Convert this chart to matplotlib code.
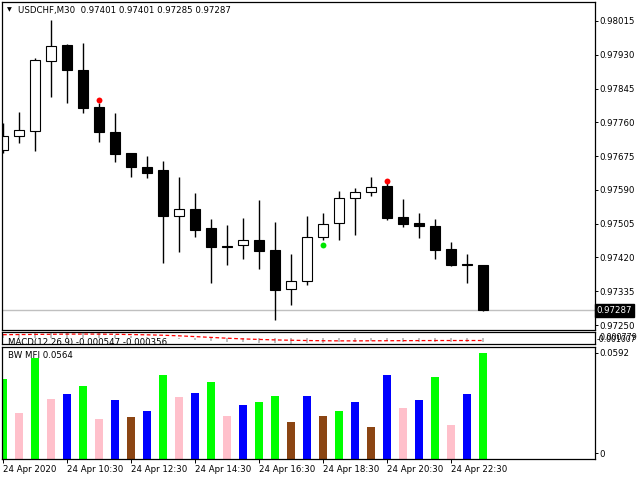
import matplotlib
matplotlib.use("Agg")
import matplotlib.pyplot as plt
import matplotlib.transforms as mtransforms

plt.rcParams['font.family'] = ['DejaVu Sans']
FS = 6.2

# ---------------- data ----------------
opens = [0.97690, 0.97726, 0.97739, 0.97915, 0.97955, 0.97892, 0.97799, 0.97736,
         0.97683, 0.97647, 0.97640, 0.97525, 0.97542, 0.97493, 0.97450, 0.97451,
         0.97464, 0.97439, 0.97340, 0.97360, 0.97471, 0.97506, 0.97569, 0.97584,
         0.97600, 0.97521, 0.97506, 0.97499, 0.97441, 0.97403, 0.97401]
highs = [0.97758, 0.97786, 0.97922, 0.98018, 0.97957, 0.97959, 0.97809, 0.97784,
         0.97684, 0.97675, 0.97663, 0.97622, 0.97582, 0.97517, 0.97502, 0.97519,
         0.97565, 0.97508, 0.97429, 0.97524, 0.97532, 0.97587, 0.97594, 0.97623,
         0.97607, 0.97567, 0.97532, 0.97517, 0.97459, 0.97429, 0.97401]
lows = [0.97683, 0.97708, 0.97689, 0.97825, 0.97809, 0.97784, 0.97711, 0.97660,
        0.97623, 0.97620, 0.97407, 0.97435, 0.97472, 0.97357, 0.97402, 0.97417,
        0.97392, 0.97263, 0.97301, 0.97350, 0.97464, 0.97464, 0.97477, 0.97575,
        0.97514, 0.97497, 0.97469, 0.97417, 0.97399, 0.97357, 0.97285]
closes = [0.97726, 0.97741, 0.97917, 0.97952, 0.97892, 0.97796, 0.97736, 0.97680,
          0.97648, 0.97633, 0.97525, 0.97541, 0.97489, 0.97447, 0.97447, 0.97463,
          0.97437, 0.97338, 0.97360, 0.97471, 0.97504, 0.97569, 0.97584, 0.97597,
          0.97520, 0.97505, 0.97500, 0.97440, 0.97402, 0.97401, 0.97287]

up_marks_idx = [6, 24]
up_marks_val = [0.97816, 0.97613]
down_marks_idx = [20]
down_marks_val = [0.97451]

macd_main = [0.00060, 0.00062, 0.00075, 0.00085, 0.00088, 0.00080, 0.00068, 0.00052,
             0.00036, 0.00020, -0.00002, -0.00018, -0.00030, -0.00045, -0.00055, -0.00062,
             -0.00066, -0.00078, -0.00083, -0.00078, -0.00070, -0.00062, -0.00055, -0.00050,
             -0.00050, -0.00052, -0.00054, -0.00058, -0.00060, -0.00058, -0.000547]
macd_signal = [0.00050, 0.00052, 0.00054, 0.00056, 0.00058, 0.00059, 0.00058, 0.00056,
               0.00052, 0.00048, 0.00042, 0.00033, 0.00022, 0.00010, -0.00002, -0.00012,
               -0.00020, -0.00027, -0.00032, -0.00036, -0.00039, -0.00041, -0.00041, -0.00040,
               -0.00039, -0.00038, -0.00037, -0.00036, -0.00036, -0.00036, -0.000356]

mfi_vals = [0.0423, 0.0246, 0.0537, 0.0316, 0.0343, 0.0386, 0.0214, 0.0311, 0.0220,
            0.0257, 0.0445, 0.0327, 0.0353, 0.0407, 0.0230, 0.0289, 0.0305, 0.0332,
            0.0193, 0.0337, 0.0230, 0.0252, 0.0305, 0.0171, 0.0445, 0.0273, 0.0311,
            0.0439, 0.0182, 0.0343, 0.0564]
mfi_cols = ['g', 'p', 'g', 'p', 'b', 'g', 'p', 'b', 'r', 'b', 'g', 'p', 'b', 'g', 'p', 'b',
            'g', 'g', 'r', 'b', 'r', 'g', 'b', 'r', 'b', 'p', 'b', 'g', 'p', 'b', 'g']
col_map = {'g': '#00ff00', 'p': '#ffc0cb', 'b': '#0000ff', 'r': '#8b4513'}

price_ticks = [0.98015, 0.97930, 0.97845, 0.97760, 0.97675, 0.97590, 0.97505,
               0.97420, 0.97335, 0.97250]
date_tick_idx = [0, 4, 8, 12, 16, 20, 24, 28]
date_labels = ['24 Apr 2020', '24 Apr 10:30', '24 Apr 12:30', '24 Apr 14:30',
               '24 Apr 16:30', '24 Apr 18:30', '24 Apr 20:30', '24 Apr 22:30']
last_price = 0.97287

# ---------------- layout ----------------
W, H = 640, 480
fig = plt.figure(figsize=(6.4, 4.8), dpi=100)
fig.patch.set_facecolor('white')

def ax_at(top, bottom, left=2, right=595):
    return fig.add_axes([left / W, 1 - bottom / H, (right - left) / W, (bottom - top) / H])

ax = ax_at(2, 330)
axm = ax_at(332, 344)
axf = ax_at(347, 458.5)

XL = (-1 / 16, (595 - 3) / 16)
for a in (ax, axm, axf):
    a.set_xlim(*XL)
    for s in a.spines.values():
        s.set_linewidth(0.9)
        s.set_color('black')
    a.yaxis.tick_right()
    a.tick_params(axis='y', which='both', left=False, right=True, direction='out',
                  length=2.2, width=0.7, pad=1.2, labelsize=FS, colors='black')
    a.tick_params(axis='x', bottom=False, labelbottom=False)

n = len(opens)
xs = list(range(n))

# ---------------- candles ----------------
ax.set_ylim(0.972375, 0.980628)
ax.axhline(last_price, color='#c0c0c0', lw=1.0, zorder=0)
ax.vlines(xs, lows, highs, color='black', lw=1.0, zorder=1)
bottoms = [min(o, c) for o, c in zip(opens, closes)]
heights = [max(abs(c - o), 0.000012) for o, c in zip(opens, closes)]
faces = ['white' if c > o else 'black' for o, c in zip(opens, closes)]
ax.bar(xs, heights, bottom=bottoms, width=0.62, color=faces, edgecolor='black',
       linewidth=0.8, zorder=2)
ax.scatter(up_marks_idx, up_marks_val, s=18, color='#ff0000', zorder=3, linewidths=0)
ax.scatter(down_marks_idx, down_marks_val, s=18, color='#00e600', zorder=3, linewidths=0)
ax.set_yticks(price_ticks)
ax.set_yticklabels([f'{v:.5f}' for v in price_ticks])
ax.text(1.0025, last_price, f'{last_price:.5f}',
        transform=mtransforms.blended_transform_factory(ax.transAxes, ax.transData),
        ha='left', va='center', fontsize=FS, color='white', clip_on=False,
        bbox=dict(boxstyle='square,pad=0.22', fc='black', ec='black'))
fig.text(7 / W, 1 - 10 / H, '\u25bc', fontsize=4.5, ha='left', va='center')
fig.text(18 / W, 1 - 10 / H, 'USDCHF,M30  0.97401 0.97401 0.97285 0.97287',
         fontsize=FS, ha='left', va='center', color='black')

# ---------------- MACD ----------------
axm.set_ylim(-0.000872, 0.000895)
axm.bar(xs, macd_main, width=0.15, color='#c0c0c0', zorder=1)
axm.plot(xs, macd_signal, color='#ff0000', lw=0.9, ls=(0, (3, 2)), zorder=2)
axm.set_yticks([])
t = axm.text(8 / W, 1 - 338 / H, 'MACD(12,26,9) -0.000547 -0.000356', transform=fig.transFigure,
             fontsize=FS, ha='left', va='top', color='black', zorder=5)
t.set_clip_box(axm.bbox)
t.set_clip_on(True)
fig.text(599 / W, 1 - 337.5 / H, '0.000779', fontsize=5.8, ha='left', va='center')
fig.text(597 / W, 1 - 339 / H, '-0.001007', fontsize=5.6, ha='left', va='center')

# ---------------- BW MFI ----------------
axf.set_ylim(0, 0.0597)
axf.bar(xs, mfi_vals, width=0.44, color=[col_map[c] for c in mfi_cols], zorder=1)
axf.set_yticks([0.0565, 0.0029])
axf.set_yticklabels(['0.0592', '0'])
axf.text(8 / W, 1 - 355 / H, 'BW MFI 0.0564', transform=fig.transFigure,
         fontsize=FS, ha='left', va='center', color='black')
axf.set_xticks(date_tick_idx)
axf.set_xticklabels(date_labels)
axf.tick_params(axis='x', bottom=True, labelbottom=True, direction='out', length=3,
                width=0.7, pad=1.5, labelsize=FS, colors='black')
for lab in axf.get_xticklabels():
    lab.set_horizontalalignment('left')

fig.savefig('out.png', dpi=100)
